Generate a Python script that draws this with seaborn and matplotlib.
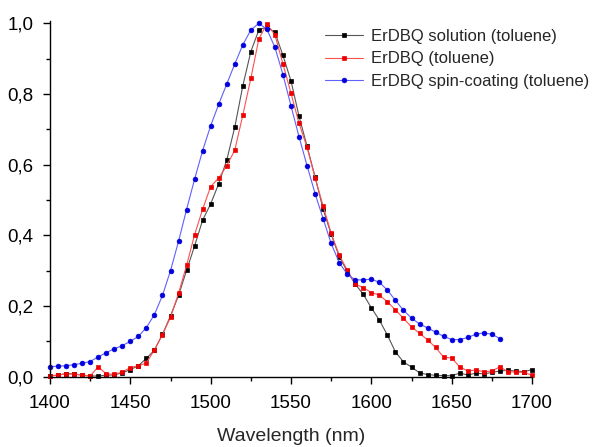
import numpy as np
import pandas as pd
import matplotlib
matplotlib.use("Agg")
import matplotlib.pyplot as plt
from matplotlib.ticker import FuncFormatter, MultipleLocator
import seaborn as sns

wl_long = list(range(1400, 1701, 5))
wl_blue = list(range(1400, 1681, 5))

solution = [0.003, 0.004, 0.009, 0.008, 0.004, 0.002, 0.002, 0.004, 0.005, 0.011,
            0.020, 0.031, 0.052, 0.075, 0.120, 0.172, 0.230, 0.301, 0.370, 0.443,
            0.489, 0.546, 0.613, 0.706, 0.823, 0.920, 0.981, 0.990, 0.974, 0.909,
            0.837, 0.737, 0.652, 0.565, 0.474, 0.403, 0.340, 0.298, 0.262, 0.233,
            0.195, 0.160, 0.118, 0.070, 0.042, 0.027, 0.011, 0.006, 0.004, 0.003,
            0.003, 0.010, 0.005, 0.010, 0.008, 0.012, 0.016, 0.018, 0.016, 0.014,
            0.020]
toluene = [0.002, 0.005, 0.008, 0.007, 0.005, 0.002, 0.028, 0.008, 0.007, 0.013,
           0.026, 0.031, 0.039, 0.076, 0.119, 0.168, 0.236, 0.315, 0.402, 0.474,
           0.538, 0.562, 0.597, 0.641, 0.740, 0.844, 0.956, 0.998, 0.967, 0.885,
           0.802, 0.717, 0.649, 0.563, 0.483, 0.406, 0.344, 0.302, 0.262, 0.252,
           0.238, 0.231, 0.212, 0.189, 0.165, 0.141, 0.123, 0.104, 0.083, 0.055,
           0.053, 0.028, 0.016, 0.019, 0.014, 0.016, 0.028, 0.014, 0.013, 0.012,
           0.004]
spin = [0.028, 0.030, 0.031, 0.034, 0.038, 0.043, 0.056, 0.068, 0.079, 0.088,
        0.100, 0.114, 0.139, 0.176, 0.230, 0.300, 0.383, 0.473, 0.559, 0.640,
        0.710, 0.771, 0.828, 0.885, 0.939, 0.981, 1.000, 0.983, 0.932, 0.855,
        0.766, 0.679, 0.597, 0.518, 0.447, 0.377, 0.323, 0.290, 0.274, 0.274,
        0.276, 0.267, 0.245, 0.216, 0.188, 0.166, 0.149, 0.138, 0.126, 0.114,
        0.105, 0.105, 0.111, 0.120, 0.124, 0.120, 0.108]

labels = ["ErDBQ solution (toluene)", "ErDBQ (toluene)", "ErDBQ spin-coating (toluene)"]

sns.set_style("ticks")
plt.rcParams["font.family"] = ["Liberation Sans", "DejaVu Sans"]

fig = plt.figure(figsize=(6.16, 4.47), dpi=100)
ax = fig.add_axes([50 / 616, 1 - 376.7 / 447, 482 / 616, 355.7 / 447])

series = [
    (wl_long, solution, labels[0], "#555555", "black", "s", 3.0),
    (wl_long, toluene, labels[1], "#ff5050", "#ee0000", "s", 3.0),
    (wl_blue, spin, labels[2], "#6060ff", "#0000dd", "o", 3.4),
]
for xs, ys, lab, lc, mc, mk, ms in series:
    df = pd.DataFrame({"x": xs, "y": ys})
    sns.lineplot(data=df, x="x", y="y", ax=ax, label=lab, color=lc, linewidth=0.8,
                 marker=mk, markersize=ms, markerfacecolor=mc, markeredgecolor=mc,
                 markeredgewidth=0.5, clip_on=False)

ax.set_xlim(1400, 1700)
ax.set_ylim(0, 355.7 / 353.4)
ax.xaxis.set_major_locator(MultipleLocator(50))
ax.xaxis.set_minor_locator(MultipleLocator(25))
ax.yaxis.set_major_locator(MultipleLocator(0.2))
ax.yaxis.set_minor_locator(MultipleLocator(0.1))
ax.yaxis.set_major_formatter(FuncFormatter(lambda v, p: f"{v:.1f}".replace(".", ",")))
for side in ["top", "right"]:
    ax.spines[side].set_visible(False)
for side in ["left", "bottom"]:
    ax.spines[side].set_linewidth(1.0)
    ax.spines[side].set_color("black")
ax.tick_params(which="major", length=5, width=1.0, labelsize=13.5, colors="black", direction="out")
ax.tick_params(which="minor", length=3, width=1.0, colors="black", direction="out")
ax.tick_params(axis="y", which="major", pad=7)
ax.tick_params(axis="x", which="major", pad=8)
ax.set_xlabel("Wavelength (nm)", fontsize=14)
ax.xaxis.set_label_coords(0.5, (376.7 - 428) / 355.7)
ax.set_ylabel("")

leg = ax.legend(loc="upper left", bbox_to_anchor=(325 / 616, 1 - 29 / 447),
                bbox_transform=fig.transFigure, frameon=False, fontsize=12,
                handlelength=2.3, handletextpad=0.48, labelspacing=0.45,
                borderpad=0, borderaxespad=0)

fig.savefig("out.png", dpi=100)
